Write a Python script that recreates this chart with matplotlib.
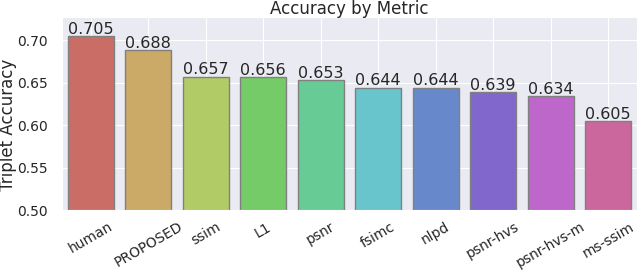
import matplotlib
matplotlib.use("Agg")
import seaborn as sns
from matplotlib import pyplot as plt

metrics = ['human', 'PROPOSED', 'ssim', 'L1', 'psnr', 'fsimc', 'nlpd',
           'psnr-hvs', 'psnr-hvs-m', 'ms-ssim']
accuracy = [0.705, 0.688, 0.657, 0.656, 0.653, 0.644, 0.644, 0.639, 0.634, 0.605]

sns.set_style('darkgrid')
fig, ax = plt.subplots(figsize=(6.4, 2.71), dpi=100)
colors = sns.color_palette('hls', len(metrics), desat=0.75)
bars = ax.bar(range(len(metrics)), accuracy, width=0.8, color=colors,
              edgecolor='#808080', linewidth=1)

for b, v in zip(bars, accuracy):
    ax.text(b.get_x() + b.get_width() / 2, v - 0.001, '%.3f' % v,
            ha='center', va='bottom', fontsize=11.5, color='#262626')

ax.set_xticks(range(len(metrics)))
ax.set_xticklabels(metrics, rotation=30, fontsize=10)
ax.tick_params(axis='y', labelsize=10, pad=7)
ax.set_xlim(-0.5, len(metrics) - 0.5)
ax.set_ylim(0.5, 0.727)
ax.set_yticks([0.50, 0.55, 0.60, 0.65, 0.70])
ax.set_ylabel('Triplet Accuracy', fontsize=12)
ax.yaxis.set_label_coords(-0.079, 0.44)
ax.set_title('Accuracy by Metric', fontsize=12, pad=2)

fig.subplots_adjust(left=0.097, right=0.995, top=0.937, bottom=0.225)
fig.savefig('out.png')
